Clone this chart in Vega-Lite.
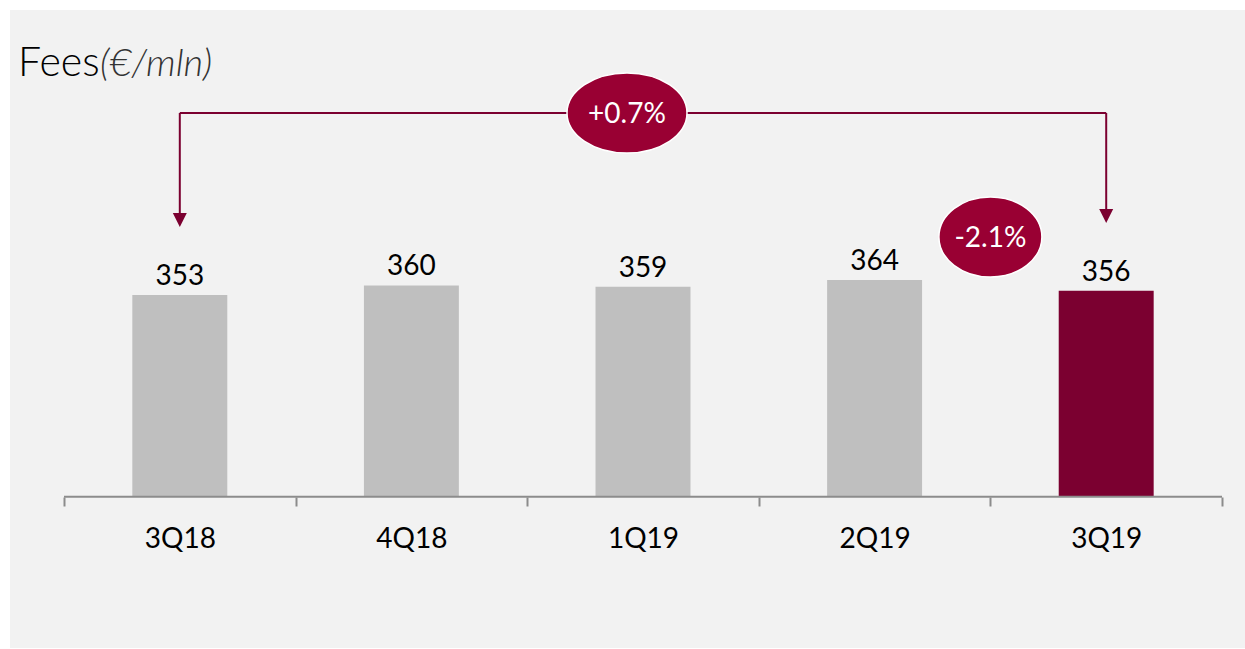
{
  "$schema": "https://vega.github.io/schema/vega-lite/v6.json",
  "width": 1235,
  "height": 638,
  "autosize": "none",
  "padding": {"left": 10, "top": 10, "right": 0, "bottom": 1},
  "background": "#ffffff",
  "config": {"view": {"stroke": null, "fill": "#f2f2f2"}, "font": "Lato"},
  "data": {"values": [
    {"q": "3Q18", "fees": 353, "hl": "no"},
    {"q": "4Q18", "fees": 360, "hl": "no"},
    {"q": "1Q19", "fees": 359, "hl": "no"},
    {"q": "2Q19", "fees": 364, "hl": "no"},
    {"q": "3Q19", "fees": 356, "hl": "yes"}
  ]},
  "layer": [
    {
      "mark": {"type": "bar", "width": {"band": 0.41}},
      "encoding": {
        "x": {"field": "q", "type": "nominal",
          "scale": {"domain": ["3Q18", "4Q18", "1Q19", "2Q19", "3Q19"], "paddingInner": 0, "paddingOuter": 0.16623, "align": 0.7013},
          "axis": {"orient": "bottom", "offset": -151, "domain": false, "tickBand": "extent", "tickSize": 9, "tickWidth": 2, "tickColor": "#8c8c8c", "labelFont": "Lato", "labelFontSize": 28, "labelColor": "#000000", "labelBaseline": "alphabetic", "labelPadding": 41, "labelAngle": 0, "title": null}},
        "y": {"field": "fees", "type": "quantitative", "scale": {"domain": [94.2, 561.9], "zero": false, "nice": false}, "axis": null},
        "y2": {"datum": 205},
        "color": {"field": "hl", "type": "nominal", "scale": {"domain": ["no", "yes"], "range": ["#bfbfbf", "#7b0030"]}, "legend": null}
      }
    },
    {
      "mark": {"type": "text", "font": "Lato", "fontSize": 28, "baseline": "alphabetic", "dy": -10, "color": "#000000"},
      "encoding": {
        "x": {"field": "q", "type": "nominal"},
        "y": {"field": "fees", "type": "quantitative"},
        "text": {"field": "fees", "type": "quantitative"}
      }
    },
    {
      "data": {"values": [{}]},
      "mark": {"type": "rule", "color": "#8c8c8c", "strokeWidth": 2},
      "encoding": {
        "x": {"datum": "3Q18", "type": "nominal", "bandPosition": 0},
        "x2": {"datum": "3Q19", "bandPosition": 1},
        "y": {"datum": 205, "type": "quantitative"}
      }
    },
    {
      "data": {"values": [{"from": "3Q18", "to": "3Q19", "level": 486.4}]},
      "mark": {"type": "rule", "color": "#7b0030", "strokeWidth": 2},
      "encoding": {
        "x": {"field": "from", "type": "nominal"},
        "x2": {"field": "to"},
        "y": {"field": "level", "type": "quantitative"}
      }
    },
    {
      "data": {"values": [
        {"q": "3Q18", "top": 486.4, "tip": 408.0},
        {"q": "3Q19", "top": 486.4, "tip": 410.9}
      ]},
      "layer": [
        {
          "mark": {"type": "rule", "color": "#7b0030", "strokeWidth": 2},
          "encoding": {
            "x": {"field": "q", "type": "nominal"},
            "y": {"field": "top", "type": "quantitative"},
            "y2": {"field": "tip"}
          }
        },
        {
          "mark": {"type": "point", "shape": "M-1,-1L1,-1L0,1Z", "size": 196, "filled": true, "opacity": 1, "color": "#7b0030"},
          "encoding": {
            "x": {"field": "q", "type": "nominal"},
            "y": {"field": "tip", "type": "quantitative"}
          }
        }
      ]
    },
    {
      "data": {"values": [{"label": "+0.7%", "q": "1Q19", "pos": 486.4}]},
      "layer": [
        {
          "mark": {"type": "point", "shape": "M-1,0A1,0.667,0,1,1,1,0A1,0.667,0,1,1,-1,0Z", "size": 14400, "filled": true, "opacity": 1, "fill": "#990033", "stroke": "#ffffff", "strokeWidth": 1.5, "xOffset": -16},
          "encoding": {
            "x": {"field": "q", "type": "nominal"},
            "y": {"field": "pos", "type": "quantitative"}
          }
        },
        {
          "mark": {"type": "text", "font": "Lato", "fontSize": 28, "baseline": "alphabetic", "dy": 10, "color": "#ffffff", "xOffset": -16},
          "encoding": {
            "x": {"field": "q", "type": "nominal"},
            "y": {"field": "pos", "type": "quantitative"},
            "text": {"field": "label"}
          }
        }
      ]
    },
    {
      "data": {"values": [{"label": "-2.1%", "q": "3Q19", "pos": 395.5}]},
      "layer": [
        {
          "mark": {"type": "point", "shape": "M-1,0A1,0.777,0,1,1,1,0A1,0.777,0,1,1,-1,0Z", "size": 10609, "filled": true, "opacity": 1, "fill": "#990033", "stroke": "#ffffff", "strokeWidth": 1.5},
          "encoding": {
            "x": {"field": "q", "type": "nominal", "bandPosition": 0},
            "y": {"field": "pos", "type": "quantitative"}
          }
        },
        {
          "mark": {"type": "text", "font": "Lato", "fontSize": 28, "baseline": "alphabetic", "dy": 10, "color": "#ffffff"},
          "encoding": {
            "x": {"field": "q", "type": "nominal", "bandPosition": 0},
            "y": {"field": "pos", "type": "quantitative"},
            "text": {"field": "label"}
          }
        }
      ]
    },
    {
      "data": {"values": [{"t1": "Fees", "t2": "(€/mln)", "q": "3Q18", "pos": 513.6}]},
      "layer": [
        {
          "mark": {"type": "text", "font": "Lato", "fontSize": 41, "fontWeight": 300, "align": "left", "baseline": "alphabetic", "dx": -46, "color": "#000000"},
          "encoding": {
            "x": {"field": "q", "type": "nominal", "bandPosition": 0},
            "y": {"field": "pos", "type": "quantitative"},
            "text": {"field": "t1"}
          }
        },
        {
          "mark": {"type": "text", "font": "Lato", "fontSize": 38, "fontWeight": 300, "fontStyle": "italic", "align": "left", "baseline": "alphabetic", "dx": 36, "color": "#333333"},
          "encoding": {
            "x": {"field": "q", "type": "nominal", "bandPosition": 0},
            "y": {"field": "pos", "type": "quantitative"},
            "text": {"field": "t2"}
          }
        }
      ]
    }
  ]
}
